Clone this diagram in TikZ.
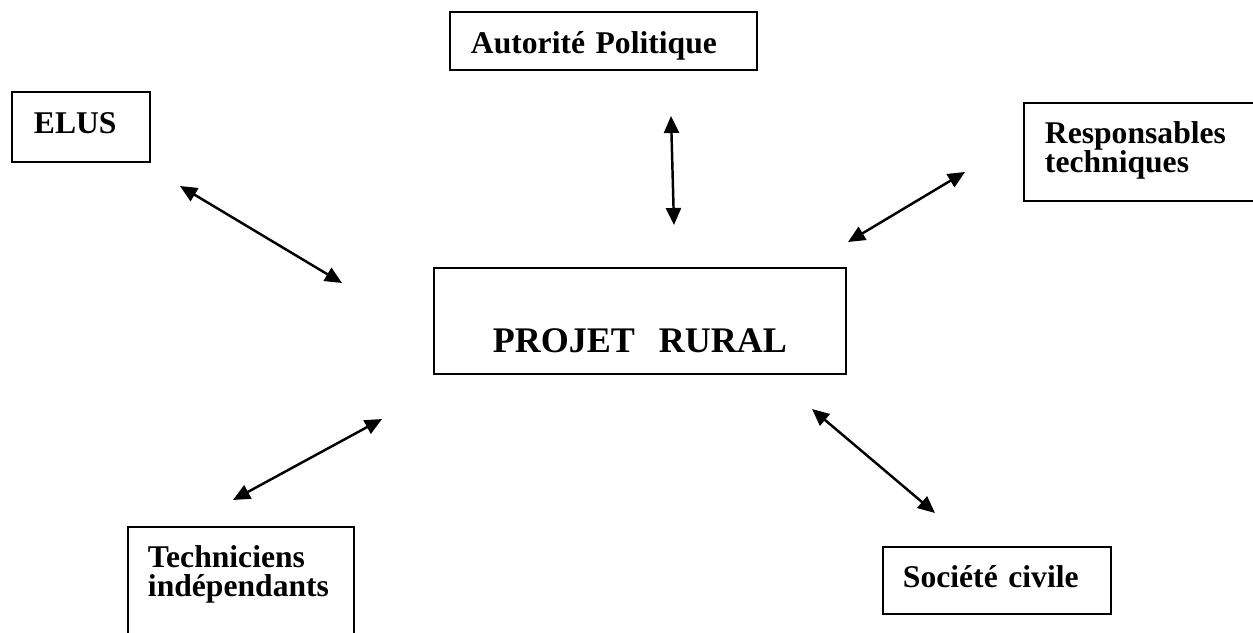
\documentclass[tikz,border=0pt]{standalone}
\usepackage{fontspec}
\setmainfont{Liberation Serif}
\usetikzlibrary{arrows.meta}
\tikzset{
	acteur/.style={draw, line width=1.1pt, anchor=north west, align=left, inner ysep=0pt,
		font=\fontsize{18}{16.5}\selectfont\bfseries},
	lien/.style={line width=1.4pt, {Triangle[length=0.34cm,width=0.3cm]}-{Triangle[length=0.34cm,width=0.3cm]}}
}

\begin{document}
\begin{tikzpicture}[x=0.02cm, y=-0.02cm]
		%%%%% START %%%%%
		
		\useasboundingbox (0, 0) rectangle (1253, 632);
		\clip (0, 0) rectangle (1253, 632);
		
		\node[acteur, inner xsep=0.42cm, text width=5.30cm, text height=0.84cm, text depth=0.32cm] (autorite) at (449, 11) {Autorité Politique};
		\node[acteur, inner xsep=0.44cm, text width=1.88cm, text height=0.84cm, text depth=0.56cm] (elus) at (11, 91) {ELUS};
		\node[acteur, inner xsep=0.42cm, text width=4.16cm, text height=0.82cm, text depth=1.14cm] (resp) at (1023, 102) {Responsables\\techniques};
		\node[acteur, inner xsep=0.40cm, text width=3.72cm, text height=0.82cm, text depth=1.86cm] (tech) at (127, 526) {Techniciens\\indépendants};
		\node[acteur, inner xsep=0.40cm, text width=3.76cm, text height=0.82cm, text depth=0.52cm] (societe) at (882, 546) {Société civile};
		
		\node[acteur, align=center, inner xsep=0pt, text width=8.24cm, text height=1.70cm, text depth=0.42cm,
			font=\fontsize{20.5}{24}\selectfont\bfseries] (projet) at (433, 267) {PROJET\ \ RURAL};
		
		\coordinate (elus-a) at (180, 186);
		\coordinate (elus-b) at (342, 283);
		\coordinate (autorite-a) at (671, 116);
		\coordinate (autorite-b) at (674, 225);
		\coordinate (resp-a) at (965, 172);
		\coordinate (resp-b) at (848, 242);
		\coordinate (tech-a) at (382, 419);
		\coordinate (tech-b) at (233, 500);
		\coordinate (societe-a) at (812, 409);
		\coordinate (societe-b) at (935, 513);
		
		\draw[lien] (elus-a) -- (elus-b);
		\draw[lien] (autorite-a) -- (autorite-b);
		\draw[lien] (resp-a) -- (resp-b);
		\draw[lien] (tech-a) -- (tech-b);
		\draw[lien] (societe-a) -- (societe-b);
		
		%%%%% END %%%%%
	\end{tikzpicture}
\end{document}
